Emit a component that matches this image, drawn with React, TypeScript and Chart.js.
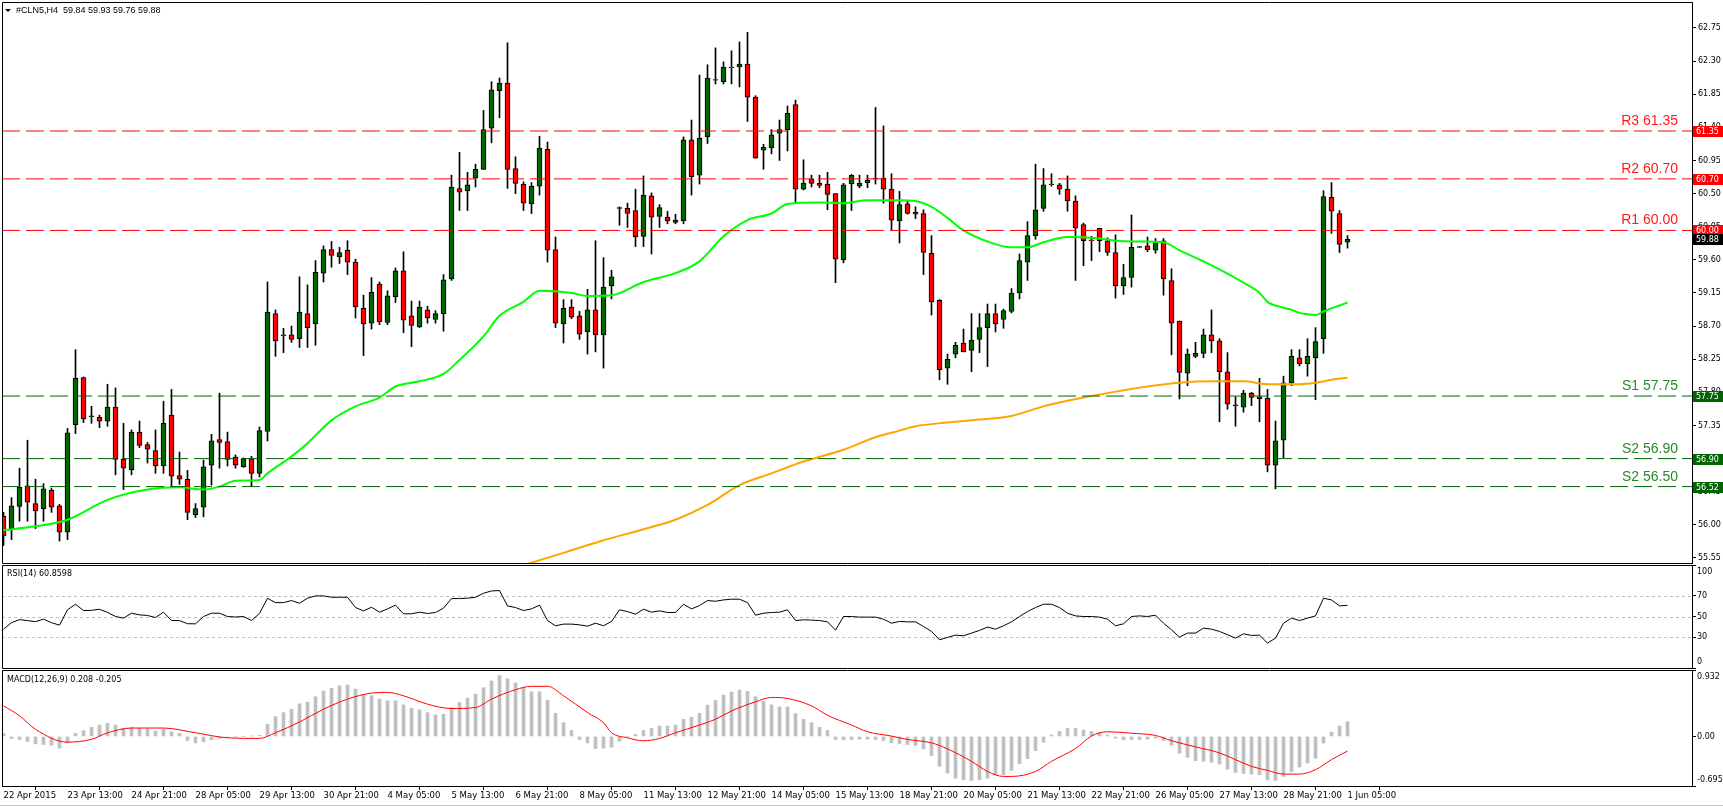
import React, { useEffect, useRef } from "react";
import { Chart, registerables } from "chart.js";
Chart.register(...registerables);

const W = 1723;
const H = 807;
const X_MIN = -0.1875;
const X_MAX = 211.0625;
const AXIS_W = 31;
const FONT = "'DejaVu Sans', 'Liberation Sans', sans-serif";
const BULL = "#006400";
const BEAR = "#ff0000";

const symbol = "#CLN5,H4";

const opens = [
  56.12, 55.95, 56.25, 56.53, 56.29, 56.22, 56.47, 56.26, 55.9, 57.36,
  58.0, 57.47, 57.46, 57.41, 57.6, 56.89, 56.75, 57.26, 57.09, 57.01,
  56.8, 57.49, 56.67, 56.62, 56.14, 56.24, 56.81, 57.16, 57.13, 56.92,
  56.79, 56.9, 56.7, 57.27, 58.87, 58.57, 58.58, 58.53, 58.87, 58.73,
  59.42, 59.74, 59.64, 59.73, 59.57, 58.94, 58.74, 59.27, 58.75, 59.1,
  59.45, 58.84, 58.69, 58.92, 58.79, 58.87, 59.34, 60.57, 60.54, 60.71,
  60.83, 61.39, 61.9, 62.0, 60.84, 60.63, 60.36, 60.6, 61.1, 59.74,
  58.73, 58.96, 58.84, 58.62, 58.92, 58.58, 59.25, 60.31, 60.3, 60.27,
  59.92, 60.47, 60.19, 60.18, 60.11, 60.13, 61.23, 60.75, 61.27, 62.04,
  62.02, 62.21, 62.22, 62.26, 61.81, 61.09, 61.12, 61.32, 61.37, 61.71,
  60.56, 60.7, 60.64, 60.63, 60.5, 59.6, 60.63, 60.6, 60.65, 60.7,
  60.71, 60.56, 60.13, 60.36, 60.25, 60.23, 59.69, 59.05, 58.13, 58.32,
  58.47, 58.37, 58.52, 58.68, 58.87, 58.79, 58.9, 59.15, 59.57, 59.93,
  60.3, 60.62, 60.62, 60.56, 60.4, 60.08, 59.87, 60.03, 59.86, 59.7,
  59.25, 59.36, 59.77, 59.79, 59.73, 59.86, 59.32, 58.77, 58.06, 58.29,
  58.33, 58.58, 58.5, 58.08, 57.62, 57.6, 57.79, 57.74, 57.72, 56.81,
  57.15, 57.93, 58.27, 58.19, 58.27, 58.53, 60.45, 60.23, 59.84,
];
const highs = [
  56.17, 56.37, 56.77, 57.15, 56.62, 56.56, 56.5, 56.28, 57.31, 58.38,
  58.01, 57.61, 57.49, 57.91, 57.86, 57.38, 57.29, 57.41, 57.12, 57.29,
  57.68, 57.84, 56.99, 56.74, 56.29, 56.88, 57.23, 57.79, 57.26, 56.95,
  56.91, 56.93, 57.33, 59.3, 58.92, 58.67, 58.7, 59.37, 59.26, 59.59,
  59.79, 59.85, 59.77, 59.86, 59.61, 59.12, 59.36, 59.3, 59.18, 59.49,
  59.71, 59.04, 59.04, 58.97, 58.91, 59.4, 60.75, 61.06, 60.79, 60.9,
  61.63, 62.02, 62.07, 62.55, 61.0, 60.66, 60.65, 61.28, 61.2, 59.91,
  59.06, 59.06, 58.9, 59.2, 59.86, 59.63, 59.46, 60.32, 60.37, 60.56,
  60.74, 60.51, 60.35, 60.26, 60.22, 61.27, 61.5, 62.11, 62.25, 62.48,
  62.29, 62.44, 62.56, 62.69, 61.83, 61.17, 61.37, 61.5, 61.69, 61.77,
  60.96, 60.75, 60.75, 60.79, 60.5, 60.64, 60.76, 60.75, 60.75, 61.67,
  61.42, 60.77, 60.53, 60.4, 60.32, 60.28, 59.93, 59.06, 58.32, 58.48,
  58.66, 58.87, 58.87, 59.0, 59.0, 58.93, 59.21, 59.68, 60.12, 60.9,
  60.84, 60.77, 60.64, 60.74, 60.47, 60.1, 59.92, 60.03, 59.9, 59.94,
  59.54, 60.21, 59.78, 59.91, 59.89, 59.89, 59.48, 58.77, 58.39, 58.48,
  58.66, 58.92, 58.53, 58.34, 57.74, 57.83, 57.8, 57.99, 57.84, 57.41,
  58.02, 58.38, 58.38, 58.53, 58.68, 60.54, 60.65, 60.27, 59.93,
];
const lows = [
  55.72, 55.8, 56.05, 56.05, 55.95, 56.05, 56.17, 55.78, 55.8, 57.24,
  57.39, 57.38, 57.32, 57.34, 56.68, 56.48, 56.68, 57.05, 56.84, 56.7,
  56.7, 56.53, 56.55, 56.07, 56.1, 56.11, 56.54, 56.77, 56.8, 56.77,
  56.78, 56.52, 56.65, 57.14, 58.29, 58.34, 58.48, 58.41, 58.41, 58.44,
  59.3, 59.5, 59.55, 59.4, 58.81, 58.3, 58.66, 58.72, 58.72, 59.02,
  58.61, 58.42, 58.68, 58.74, 58.74, 58.63, 59.32, 60.27, 60.27, 60.59,
  60.83, 61.19, 61.53, 60.57, 60.5, 60.27, 60.23, 60.48, 59.57, 58.68,
  58.47, 58.8, 58.52, 58.32, 58.35, 58.13, 59.07, 60.07, 60.04, 59.78,
  59.78, 59.68, 60.04, 60.09, 60.09, 60.09, 60.48, 60.63, 61.18, 61.99,
  61.99, 61.99, 61.95, 61.48, 60.98, 60.83, 61.04, 60.95, 61.08, 60.37,
  60.55, 60.59, 60.58, 60.28, 59.29, 59.56, 60.27, 60.58, 60.58, 60.63,
  60.37, 60.01, 59.83, 60.22, 60.16, 59.4, 58.85, 57.97, 57.91, 58.27,
  58.35, 58.08, 58.34, 58.15, 58.62, 58.67, 58.88, 59.07, 59.32, 59.88,
  60.26, 60.6, 60.49, 60.26, 59.32, 59.52, 59.59, 59.71, 59.66, 59.08,
  59.13, 59.23, 59.77, 59.71, 59.69, 59.12, 58.31, 57.71, 57.89, 58.27,
  58.27, 58.34, 57.4, 57.57, 57.34, 57.53, 57.62, 57.4, 56.72, 56.49,
  56.91, 57.89, 58.16, 58.02, 57.7, 58.33, 59.96, 59.7, 59.76,
];
const closes = [
  55.85, 56.26, 56.51, 56.31, 56.19, 56.49, 56.24, 55.9, 57.25, 57.99,
  57.44, 57.48, 57.41, 57.6, 56.89, 56.77, 57.26, 57.08, 57.03, 56.8,
  57.38, 56.66, 56.62, 56.17, 56.22, 56.79, 57.14, 57.12, 56.89, 56.81,
  56.9, 56.7, 57.28, 58.89, 58.5, 58.58, 58.52, 58.89, 58.68, 59.43,
  59.74, 59.66, 59.7, 59.57, 58.96, 58.73, 59.16, 58.76, 59.11, 59.45,
  58.78, 58.71, 58.96, 58.81, 58.87, 59.33, 60.59, 60.52, 60.62, 60.83,
  61.37, 61.91, 62.0, 60.83, 60.64, 60.37, 60.6, 61.12, 59.73, 58.74,
  58.94, 58.82, 58.59, 58.92, 58.58, 59.23, 59.37, 60.3, 60.23, 59.91,
  60.48, 60.18, 60.31, 60.13, 60.14, 61.23, 60.73, 61.25, 62.07, 62.05,
  62.22, 62.22, 62.26, 61.81, 60.98, 61.13, 61.3, 61.37, 61.59, 60.56,
  60.64, 60.64, 60.61, 60.49, 59.61, 60.62, 60.75, 60.64, 60.68, 60.71,
  60.56, 60.14, 60.35, 60.23, 60.22, 59.7, 59.03, 58.11, 58.25, 58.44,
  58.35, 58.51, 58.68, 58.87, 58.73, 58.91, 59.15, 59.59, 59.93, 60.28,
  60.62, 60.63, 60.56, 60.4, 60.03, 59.86, 59.86, 59.86, 59.7, 59.25,
  59.36, 59.77, 59.78, 59.74, 59.83, 59.34, 58.74, 58.07, 58.32, 58.33,
  58.58, 58.5, 58.08, 57.64, 57.63, 57.79, 57.73, 57.71, 56.81, 57.14,
  57.93, 58.29, 58.19, 58.29, 58.49, 60.46, 60.26, 59.81, 59.88,
];

// Moving averages (bar index, value)
const ma50Idx = [0, 4, 8, 13, 18, 22, 25, 27, 29, 32, 33, 36, 38, 41, 44, 47, 49, 52, 55, 57, 60, 62, 65, 67, 71, 73, 76, 80, 84, 87, 90, 93, 96, 98, 102, 105, 108, 112, 114, 116, 118, 120, 123, 126, 128, 130, 133, 137, 139, 142, 145, 147, 150, 152, 155, 157, 158, 160, 161, 162, 163, 164, 165, 167, 168];
const ma50Val = [55.93, 55.98, 56.07, 56.34, 56.48, 56.51, 56.48, 56.52, 56.6, 56.61, 56.7, 56.93, 57.11, 57.42, 57.61, 57.73, 57.88, 57.95, 58.05, 58.24, 58.56, 58.84, 59.03, 59.18, 59.15, 59.11, 59.12, 59.3, 59.42, 59.58, 59.92, 60.14, 60.23, 60.36, 60.38, 60.37, 60.41, 60.41, 60.4, 60.32, 60.17, 60.0, 59.85, 59.77, 59.77, 59.84, 59.91, 59.89, 59.86, 59.85, 59.84, 59.73, 59.58, 59.47, 59.29, 59.15, 59.03, 58.95, 58.92, 58.88, 58.86, 58.85, 58.9, 58.98, 59.02];
const ma200Idx = [64, 70, 75, 80, 84, 88, 92, 96, 100, 105, 109, 112, 114, 118, 122, 126, 130, 135, 139, 143, 147, 151, 155, 158, 162, 164, 166, 168];
const ma200Val = [55.42, 55.62, 55.79, 55.94, 56.07, 56.27, 56.54, 56.7, 56.86, 57.02, 57.19, 57.28, 57.34, 57.39, 57.43, 57.48, 57.61, 57.73, 57.81, 57.88, 57.93, 57.95, 57.95, 57.91, 57.91, 57.93, 57.97, 58.0];

// Support / resistance levels
const levelValues = [61.35, 60.7, 60.0, 57.75, 56.9, 56.52];
const levelNames = ["R3 61.35", "R2 60.70", "R1 60.00", "S1 57.75", "S2 56.90", "S2 56.50"];
const levelKinds = ["R", "R", "R", "S", "S", "S"];

const priceTicks = [55.55, 56.0, 56.45, 56.9, 57.35, 57.8, 58.25, 58.7, 59.15, 59.6, 60.05, 60.5, 60.95, 61.4, 61.85, 62.3, 62.75];

const xTickIdx = [0, 8, 16, 24, 32, 40, 48, 56, 64, 72, 80, 88, 96, 104, 112, 120, 128, 136, 144, 152, 160, 168];
const xTickLabels = [
  "22 Apr 2015", "23 Apr 13:00", "24 Apr 21:00", "28 Apr 05:00", "29 Apr 13:00", "30 Apr 21:00",
  "4 May 05:00", "5 May 13:00", "6 May 21:00", "8 May 05:00", "11 May 13:00", "12 May 21:00",
  "14 May 05:00", "15 May 13:00", "18 May 21:00", "20 May 05:00", "21 May 13:00", "22 May 21:00",
  "26 May 05:00", "27 May 13:00", "28 May 21:00", "1 Jun 05:00",
];

const rsi = [
  37.7, 44, 47, 46, 45, 47.4, 44, 41.6, 56.5, 61.9,
  55.8, 56, 57, 54, 50, 48.4, 53.2, 51.6, 51, 49,
  54.2, 46.1, 46, 43, 42.9, 50, 53.2, 53.2, 50, 49.5,
  50, 46.1, 53, 67.7, 63.5, 63.5, 65.5, 62.9, 67.7, 70,
  70, 68.7, 68.7, 68.7, 58.7, 55.5, 59, 54.2, 57.4, 61,
  52.6, 52.6, 54.2, 52.9, 53.9, 58.1, 67.4, 67.4, 67.8, 68.7,
  72.6, 74.8, 75.2, 60.3, 58.7, 55.8, 57.4, 61, 46.1, 41,
  42.6, 42.6, 41.9, 40.6, 43.5, 41, 45.2, 56.5, 54.8, 52.3,
  57.1, 54.2, 55.5, 53.9, 53.9, 61.9, 57.4, 60.6, 65.5, 64.8,
  66.1, 66.8, 66.8, 63.5, 51.3, 53.2, 53.9, 54.2, 56.5, 46.1,
  46.8, 46.5, 46.1, 44.8, 36.8, 50, 50, 49.4, 49.4, 49.4,
  47.4, 43.5, 45.2, 44.8, 44.8, 40.3, 35.5, 27.4, 29.7, 31.9,
  31.3, 33.9, 36.5, 39.7, 37.7, 41, 44.8, 50, 54.8, 58.7,
  61.9, 61.9, 58.7, 53.2, 50.6, 50, 50, 49.4, 47.4, 41,
  42.9, 50, 50.6, 50, 51.3, 43.5, 37.1, 30, 33.9, 33.9,
  38.7, 37.7, 35.5, 32.3, 29, 33.2, 31.6, 31.9, 24.2, 29,
  43.5, 48.4, 46.1, 48.4, 50.6, 67.7, 66.1, 60.3, 60.8598,
];
const rsiLevels = [70, 50, 30];
const rsiTickValues = [100, 70, 50, 30, 0];

const macdHist = [
  0.042, -0.028, -0.042, -0.071, -0.104, -0.113, -0.123, -0.165, -0.09, 0.042,
  0.08, 0.127, 0.16, 0.184, 0.16, 0.113, 0.127, 0.113, 0.104, 0.075,
  0.099, 0.061, 0.042, -0.057, -0.09, -0.075, -0.047, -0.024, -0.01, 0.0,
  0.0, 0.005, 0.014, 0.17, 0.278, 0.335, 0.382, 0.458, 0.481, 0.557,
  0.637, 0.675, 0.712, 0.722, 0.665, 0.585, 0.571, 0.524, 0.5, 0.5,
  0.443, 0.396, 0.373, 0.335, 0.302, 0.311, 0.401, 0.476, 0.538, 0.594,
  0.684, 0.778, 0.854, 0.807, 0.75, 0.689, 0.627, 0.627, 0.509, 0.325,
  0.193, 0.085, -0.042, -0.09, -0.17, -0.165, -0.151, -0.066, 0.0, 0.028,
  0.085, 0.113, 0.146, 0.146, 0.16, 0.241, 0.269, 0.325, 0.439, 0.505,
  0.58, 0.623, 0.651, 0.632, 0.557, 0.495, 0.443, 0.415, 0.415, 0.321,
  0.241, 0.193, 0.127, 0.085, -0.042, -0.047, -0.042, -0.038, -0.038, -0.042,
  -0.057, -0.09, -0.099, -0.113, -0.127, -0.175, -0.269, -0.42, -0.514, -0.585,
  -0.608, -0.618, -0.608, -0.585, -0.538, -0.538, -0.476, -0.382, -0.311, -0.198,
  -0.08, 0.019, 0.071, 0.113, 0.113, 0.09, 0.071, 0.052, 0.019, -0.024,
  -0.047, -0.042, -0.042, -0.038, -0.024, -0.057, -0.123, -0.236, -0.292, -0.34,
  -0.349, -0.363, -0.387, -0.458, -0.505, -0.519, -0.528, -0.538, -0.608, -0.618,
  -0.561, -0.491, -0.429, -0.373, -0.307, -0.094, 0.061, 0.146, 0.208,
];
const signalIdx = [0, 2, 4, 8, 11, 13, 16, 20, 24, 28, 32, 34, 37, 40, 43, 46, 48, 50, 53, 56, 59, 61, 64, 66, 68, 70, 73, 75, 76, 78, 80, 82, 84, 87, 89, 91, 94, 96, 98, 101, 103, 106, 108, 111, 113, 116, 118, 121, 123, 125, 126, 129, 131, 134, 136, 138, 141, 144, 146, 149, 152, 154, 156, 158, 160, 162, 164, 166, 168];
const signalVal = [0.43, 0.29, 0.1, -0.08, -0.04, 0.05, 0.118, 0.118, 0.052, -0.019, -0.028, 0.052, 0.203, 0.382, 0.524, 0.608, 0.618, 0.571, 0.453, 0.392, 0.406, 0.524, 0.656, 0.703, 0.703, 0.571, 0.335, 0.193, 0.052, -0.019, -0.061, -0.028, 0.052, 0.16, 0.241, 0.358, 0.486, 0.547, 0.533, 0.429, 0.297, 0.16, 0.066, 0.005, -0.042, -0.09, -0.175, -0.349, -0.491, -0.561, -0.561, -0.491, -0.349, -0.17, 0.005, 0.066, 0.045, 0.014, -0.06, -0.146, -0.231, -0.325, -0.42, -0.476, -0.528, -0.528, -0.467, -0.325, -0.205];
const macdTickValues = [0.932, 0, -0.695];

// ---------- helpers ----------
const last = opens.length - 1;

function yAxisRight(min: number, max: number, ticks: number[], showLabels: boolean) {
  return {
    type: "linear",
    position: "right",
    min,
    max,
    afterBuildTicks: (s: any) => {
      s.ticks = ticks.map((v) => ({ value: v }));
    },
    afterFit: (s: any) => {
      s.width = AXIS_W;
      s.paddingTop = 0;
      s.paddingBottom = 0;
    },
    ticks: {
      display: showLabels,
      autoSkip: false,
      padding: 2,
      color: "#000",
      font: { family: FONT, size: 8 },
      callback: (v: any) => Number(v).toFixed(2),
    },
    grid: { drawOnChartArea: false, drawTicks: true, tickLength: 4, color: "#000" },
    border: { display: true, color: "#000", width: 1 },
  };
}

const xHidden = { type: "linear", display: false, min: X_MIN, max: X_MAX, offset: false };

const baseOptions = (top: number, bottom: number) => ({
  responsive: false,
  maintainAspectRatio: false,
  animation: false,
  devicePixelRatio: 1,
  events: [],
  layout: { padding: { left: 2, right: 0, top, bottom }, autoPadding: false },
  plugins: { legend: { display: false }, tooltip: { enabled: false } },
});

function drawRightLabels(chart: any, values: number[], texts: string[]) {
  const { ctx, chartArea: a, scales } = chart;
  const y = scales.y;
  ctx.save();
  ctx.font = `8px ${FONT}`;
  ctx.fillStyle = "#000";
  ctx.textAlign = "left";
  ctx.textBaseline = "middle";
  values.forEach((v, k) => {
    let py = y.getPixelForValue(v);
    if (py - a.top < 6) py = a.top + 7;
    if (a.bottom - py < 6) py = a.bottom - 6;
    ctx.fillText(texts[k], a.right + 5, py);
  });
  ctx.restore();
}

function drawFrame(ctx: any, a: any, withBottom: boolean) {
  ctx.save();
  ctx.strokeStyle = "#000";
  ctx.lineWidth = 1;
  ctx.beginPath();
  ctx.moveTo(a.right, a.top + 0.5);
  ctx.lineTo(a.left + 0.5, a.top + 0.5);
  ctx.lineTo(a.left + 0.5, a.bottom + (withBottom ? 0.5 : 0));
  if (withBottom) ctx.lineTo(a.right, a.bottom + 0.5);
  ctx.stroke();
  ctx.restore();
}

// ---------- main price panel ----------
function mainConfig(): any {
  const bodies = opens.map((o, i) => ({ x: i, y: [o, closes[i]] }));
  const wicks = lows.map((l, i) => ({ x: i, y: [l, highs[i]] }));
  const levelSets = levelValues.map((v, k) => ({
    type: "line",
    data: [
      { x: X_MIN, y: v },
      { x: X_MAX, y: v },
    ],
    borderColor: levelKinds[k] === "R" ? "#ff0000" : "#006400",
    borderWidth: 1,
    borderDash: [18, 6],
    pointRadius: 0,
    order: 0,
  }));
  const deco = {
    id: "mainDeco",
    beforeDraw(chart: any) {
      const c = chart.ctx;
      c.save();
      c.fillStyle = "#fff";
      c.fillRect(0, 0, chart.width, chart.height);
      c.restore();
    },
    afterDraw(chart: any) {
      const { ctx, chartArea: a, scales } = chart;
      const y = scales.y;
      drawFrame(ctx, a, true);
      ctx.save();
      // header
      ctx.fillStyle = "#000";
      ctx.beginPath();
      ctx.moveTo(5, 9);
      ctx.lineTo(11, 9);
      ctx.lineTo(8, 12);
      ctx.closePath();
      ctx.fill();
      ctx.font = "9px 'Liberation Sans', Arial, sans-serif";
      ctx.textAlign = "left";
      ctx.textBaseline = "middle";
      const hdr = `${symbol}  ${opens[last].toFixed(2)} ${highs[last].toFixed(2)} ${lows[last].toFixed(2)} ${closes[last].toFixed(2)}`;
      ctx.fillText(hdr, 16, 11);
      // level names
      ctx.font = "14px 'Liberation Sans', Arial, sans-serif";
      ctx.textAlign = "right";
      ctx.textBaseline = "alphabetic";
      levelValues.forEach((v, k) => {
        const py = Math.round(y.getPixelForValue(v));
        ctx.fillStyle = levelKinds[k] === "R" ? "#ff1a1a" : "#2a8a2a";
        ctx.fillText(levelNames[k], a.right - 14, py - 6);
      });
      // price boxes
      const boxes = levelValues.map((v, k) => ({
        v,
        text: v.toFixed(2),
        color: levelKinds[k] === "R" ? "#ff0000" : "#006400",
      }));
      boxes.push({ v: closes[last], text: closes[last].toFixed(2), color: "#000" });
      ctx.font = `8px ${FONT}`;
      ctx.textAlign = "left";
      ctx.textBaseline = "middle";
      boxes.forEach((b) => {
        const py = Math.round(y.getPixelForValue(b.v));
        ctx.fillStyle = b.color;
        ctx.fillRect(a.right + 1, py - 5, AXIS_W, 11);
        ctx.fillStyle = "#fff";
        ctx.fillText(b.text, a.right + 4, py + 0.5);
      });
      // bottom window line
      ctx.strokeStyle = "#c8c8c8";
      ctx.beginPath();
      ctx.moveTo(0, 805.5);
      ctx.lineTo(chart.width, 805.5);
      ctx.stroke();
      ctx.restore();
    },
  };
  return {
    type: "bar",
    data: {
      datasets: [
        ...levelSets,
        {
          type: "line",
          data: ma50Idx.map((x, k) => ({ x, y: ma50Val[k] })),
          borderColor: "#00ff00",
          borderWidth: 2,
          pointRadius: 0,
          cubicInterpolationMode: "monotone",
          order: 0,
        },
        {
          type: "line",
          data: ma200Idx.map((x, k) => ({ x, y: ma200Val[k] })),
          borderColor: "#ffa500",
          borderWidth: 2,
          pointRadius: 0,
          cubicInterpolationMode: "monotone",
          order: 0,
        },
        {
          type: "bar",
          data: bodies,
          backgroundColor: opens.map((o, i) => (closes[i] >= o ? BULL : BEAR)),
          borderColor: "#000",
          borderWidth: 1,
          borderSkipped: false,
          barThickness: 5,
          grouped: false,
          order: 1,
        },
        {
          type: "bar",
          data: wicks,
          backgroundColor: "#000",
          borderWidth: 0,
          barThickness: 1,
          grouped: false,
          order: 2,
        },
      ],
    },
    options: {
      ...baseOptions(2, H - 563),
      scales: {
        x: xHidden,
        y: yAxisRight(55.482, 63.103, priceTicks, true),
      },
    },
    plugins: [deco],
  };
}

// ---------- RSI panel ----------
function rsiConfig(): any {
  const deco = {
    id: "rsiDeco",
    beforeDatasetsDraw(chart: any) {
      const { ctx, chartArea: a, scales } = chart;
      ctx.save();
      ctx.strokeStyle = "#c0c0c0";
      ctx.lineWidth = 1;
      ctx.setLineDash([3, 3]);
      rsiLevels.forEach((v) => {
        const py = Math.round(scales.y.getPixelForValue(v)) + 0.5;
        ctx.beginPath();
        ctx.moveTo(a.left, py);
        ctx.lineTo(a.right, py);
        ctx.stroke();
      });
      ctx.restore();
    },
    afterDraw(chart: any) {
      const { ctx, chartArea: a } = chart;
      drawFrame(ctx, a, true);
      ctx.save();
      ctx.font = `8px ${FONT}`;
      ctx.fillStyle = "#000";
      ctx.textAlign = "left";
      ctx.textBaseline = "middle";
      ctx.fillText(`RSI(14) ${rsi[last].toFixed(4)}`, 7, a.top + 9);
      ctx.restore();
      drawRightLabels(chart, rsiTickValues, rsiTickValues.map((v) => String(v)));
    },
  };
  return {
    type: "line",
    data: {
      datasets: [
        {
          data: rsi.map((v, i) => ({ x: i, y: v })),
          borderColor: "#000",
          borderWidth: 1,
          pointRadius: 0,
        },
      ],
    },
    options: {
      ...baseOptions(565, H - 668),
      scales: { x: xHidden, y: yAxisRight(0, 100, rsiTickValues, false) },
    },
    plugins: [deco],
  };
}

// ---------- MACD panel ----------
function macdConfig(): any {
  const deco = {
    id: "macdDeco",
    afterDraw(chart: any) {
      const { ctx, chartArea: a } = chart;
      drawFrame(ctx, a, false);
      ctx.save();
      ctx.font = `8px ${FONT}`;
      ctx.fillStyle = "#000";
      ctx.textAlign = "left";
      ctx.textBaseline = "middle";
      ctx.fillText(
        `MACD(12,26,9) ${macdHist[last].toFixed(3)} ${signalVal[signalVal.length - 1].toFixed(3)}`,
        7,
        a.top + 10
      );
      ctx.restore();
      drawRightLabels(
        chart,
        macdTickValues,
        macdTickValues.map((v) => (v === 0 ? "0.00" : String(v)))
      );
    },
  };
  return {
    type: "bar",
    data: {
      datasets: [
        {
          type: "line",
          data: signalIdx.map((x, k) => ({ x, y: signalVal[k] })),
          borderColor: "#ff0000",
          borderWidth: 1,
          pointRadius: 0,
          cubicInterpolationMode: "monotone",
          order: 0,
        },
        {
          type: "bar",
          data: macdHist.map((v, i) => ({ x: i, y: v })),
          backgroundColor: "#c0c0c0",
          borderWidth: 0,
          barThickness: 3,
          grouped: false,
          order: 1,
        },
      ],
    },
    options: {
      ...baseOptions(670, 0),
      scales: {
        x: {
          type: "linear",
          position: "bottom",
          min: X_MIN,
          max: X_MAX,
          offset: false,
          afterBuildTicks: (s: any) => {
            s.ticks = xTickIdx.map((v) => ({ value: v }));
          },
          afterFit: (s: any) => {
            s.height = 21;
            s.paddingLeft = 0;
            s.paddingRight = 0;
          },
          ticks: {
            autoSkip: false,
            maxRotation: 0,
            minRotation: 0,
            align: "start",
            padding: 1,
            color: "#000",
            font: { family: FONT, size: 8.5 },
            callback: (_v: any, idx: number) => xTickLabels[idx],
          },
          grid: { drawOnChartArea: false, drawTicks: true, tickLength: 4, color: "#000" },
          border: { display: true, color: "#000", width: 1 },
        },
        y: yAxisRight(-0.695, 0.932, macdTickValues, false),
      },
    },
    plugins: [deco],
  };
}

export default function App() {
  const mainRef = useRef<HTMLCanvasElement>(null);
  const rsiRef = useRef<HTMLCanvasElement>(null);
  const macdRef = useRef<HTMLCanvasElement>(null);

  useEffect(() => {
    document.body.style.margin = "0";
    const charts = [
      new Chart(mainRef.current as HTMLCanvasElement, mainConfig()),
      new Chart(rsiRef.current as HTMLCanvasElement, rsiConfig()),
      new Chart(macdRef.current as HTMLCanvasElement, macdConfig()),
    ];
    return () => charts.forEach((c) => c.destroy());
  }, []);

  const st: React.CSSProperties = { position: "absolute", left: 0, top: 0, width: W, height: H };
  return (
    <div style={{ position: "relative", width: W, height: H, background: "#fff", overflow: "hidden" }}>
      <canvas ref={mainRef} width={W} height={H} style={st} />
      <canvas ref={rsiRef} width={W} height={H} style={st} />
      <canvas ref={macdRef} width={W} height={H} style={st} />
    </div>
  );
}
